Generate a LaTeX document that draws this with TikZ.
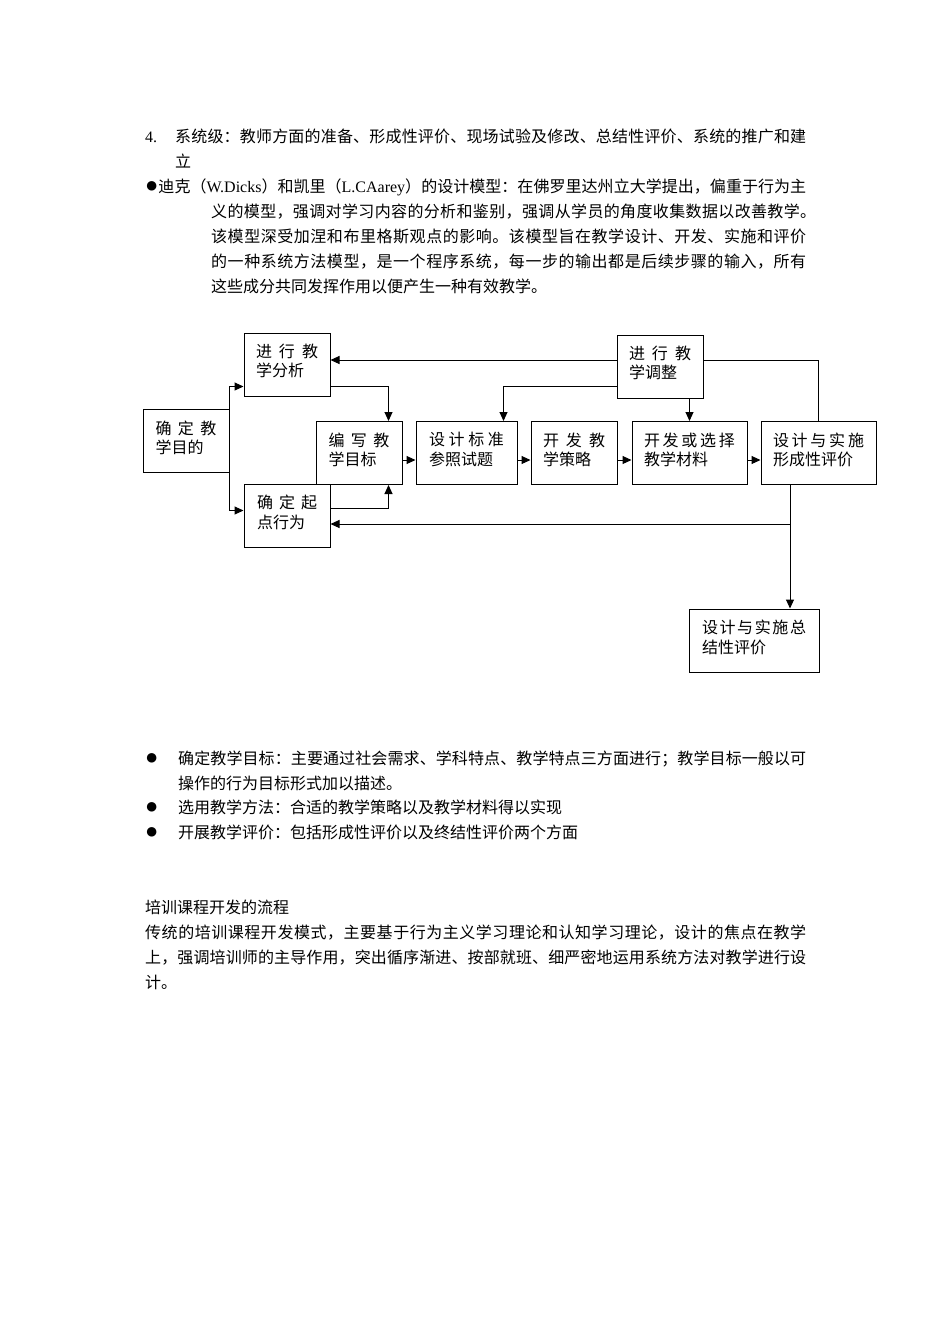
\documentclass[tikz,border=0pt]{standalone}
\usepackage{fontspec}
\setmainfont{Noto Sans CJK SC}
\newfontfamily\latin{Liberation Serif}
\usetikzlibrary{arrows.meta}

% glue between hanzi, so that a line can be spread to a given width
\XeTeXinterchartokenstate=1
\chardef\hanzicls=7
\makeatletter
\count@="3000
\loop\XeTeXcharclass\count@=\hanzicls\advance\count@\@ne\ifnum\count@<"A000\repeat
\count@="FF00
\loop\XeTeXcharclass\count@=\hanzicls\advance\count@\@ne\ifnum\count@<"FFF0\repeat
\makeatother
\XeTeXinterchartoks\hanzicls\hanzicls={\hskip0pt plus 1pt minus 1pt}
\newcommand{\spreadline}[2]{\makebox[#1][s]{#2}}
\newcommand{\bigdot}{{\latin\fontsize{22}{25}\selectfont ●}}

\begin{document}
\begin{tikzpicture}[x=1pt, y=-1pt,
    txt/.style={anchor=base west, inner sep=0pt, font=\fontsize{16}{25}\selectfont},
    box/.style={rectangle, draw, line width=1pt, minimum height=63pt, inner sep=0pt, align=left,
        font=\fontsize{16}{19.5}\selectfont, execute at end node={\rule[-8pt]{0pt}{8pt}}},
    wire/.style={line width=1pt},
    arr/.style={wire, -{Triangle[length=9pt, width=8pt]}}
]
\path[fill=white, use as bounding box] (0,0) rectangle (950,1344);

% text above the diagram
\node[txt] (num4) at (145,142.5) {\latin 4.};
\node[txt] (sys1) at (175,142.5) {\spreadline{631pt}{系统级：教师方面的准备、形成性评价、现场试验及修改、总结性评价、系统的推广和建}};
\node[txt] (sys2) at (175,167.5) {立};
\node[txt] (dick1) at (145,192.5) {\spreadline{661pt}{\bigdot 迪克（{\latin W.Dicks}）和凯里（{\latin L.CAarey}）的设计模型：在佛罗里达州立大学提出，偏重于行为主}};
\node[txt] (dick2) at (211,217.5) {\spreadline{605pt}{义的模型，强调对学习内容的分析和鉴别，强调从学员的角度收集数据以改善教学。}};
\node[txt] (dick3) at (211,242.5) {\spreadline{595pt}{该模型深受加涅和布里格斯观点的影响。该模型旨在教学设计、开发、实施和评价}};
\node[txt] (dick4) at (211,267.5) {\spreadline{595pt}{的一种系统方法模型，是一个程序系统，每一步的输出都是后续步骤的输入，所有}};
\node[txt] (dick5) at (211,292.5) {这些成分共同发挥作用以便产生一种有效教学。};

% the model
\node[box, minimum width=86pt] (goal) at (186,441) {\spreadline{61pt}{确定教}\\学目的};
\node[box, minimum width=86pt] (analysis) at (287,364.5) {\spreadline{62pt}{进行教}\\学分析};
\node[box, minimum width=86pt] (entry) at (287,515.5) {\spreadline{60pt}{确定起}\\点行为};
\node[box, minimum width=86pt] (objective) at (359,453) {\spreadline{61pt}{编写教}\\学目标};
\node[box, minimum width=101pt] (test) at (466.5,453) {\spreadline{75pt}{设计标准}\\参照试题};
\node[box, minimum width=86pt] (strategy) at (574,453) {\spreadline{62pt}{开发教}\\学策略};
\node[box, minimum width=115pt] (material) at (689.5,453) {\spreadline{91pt}{开发或选择}\\教学材料};
\node[box, minimum width=115pt] (formative) at (818.5,453) {\spreadline{91pt}{设计与实施}\\形成性评价};
\node[box, minimum width=86pt] (revision) at (660,366.5) {\spreadline{62pt}{进行教}\\学调整};
\node[box, minimum width=130pt] (summative) at (754,640.5) {\spreadline{104pt}{设计与实施总}\\结性评价};
\coordinate (fork) at (790,524);

\draw[arr] (goal.east) |- ([yshift=10pt]analysis.south west);
\draw[arr] (goal.east) |- ([yshift=-27pt]entry.north west);
\draw[arr] ([yshift=10pt]analysis.south east) -| ([xshift=-14pt]objective.north east);
\draw[arr] ([yshift=-25pt]entry.north east) -| ([xshift=-14pt]objective.south east);
\draw[arr] ([yshift=-7pt]objective.east) -- ([yshift=-7pt]test.west);
\draw[arr] ([yshift=-7pt]test.east) -- ([yshift=-7pt]strategy.west);
\draw[arr] ([yshift=-7pt]strategy.east) -- ([yshift=-7pt]material.west);
\draw[arr] ([yshift=-7pt]material.east) -- ([yshift=-7pt]formative.west);
\draw[arr] ([yshift=6.5pt]revision.west) -- ([yshift=6.5pt]revision.west -| analysis.east);
\draw[arr] ([yshift=12pt]revision.south west) -| ([xshift=-14pt]test.north east);
\draw[arr] (revision.south -| material.north) -- (material.north);
\draw[wire] (formative.north) |- ([yshift=6.5pt]revision.east);
\draw[arr] (formative.south -| fork) -- (summative.north -| fork);
\draw[arr] (fork) -- (fork -| entry.east);

% text below the diagram
\node[txt] (dot1) at (145,764.5) {\bigdot};
\node[txt] (aim1) at (178,764.5) {\spreadline{628pt}{确定教学目标：主要通过社会需求、学科特点、教学特点三方面进行；教学目标一般以可}};
\node[txt] (aim2) at (178,789.5) {操作的行为目标形式加以描述。};
\node[txt] (dot2) at (145,813.5) {\bigdot};
\node[txt] (method) at (178,813.5) {选用教学方法：合适的教学策略以及教学材料得以实现};
\node[txt] (dot3) at (145,838.5) {\bigdot};
\node[txt] (assess) at (178,838.5) {开展教学评价：包括形成性评价以及终结性评价两个方面};
\node[txt] (flow) at (145,913.5) {培训课程开发的流程};
\node[txt] (trad1) at (145,938.5) {\spreadline{661pt}{传统的培训课程开发模式，主要基于行为主义学习理论和认知学习理论，设计的焦点在教学}};
\node[txt] (trad2) at (145,963.5) {\spreadline{661pt}{上，强调培训师的主导作用，突出循序渐进、按部就班、细严密地运用系统方法对教学进行设}};
\node[txt] (trad3) at (145,988.5) {计。};
\end{tikzpicture}
\end{document}
